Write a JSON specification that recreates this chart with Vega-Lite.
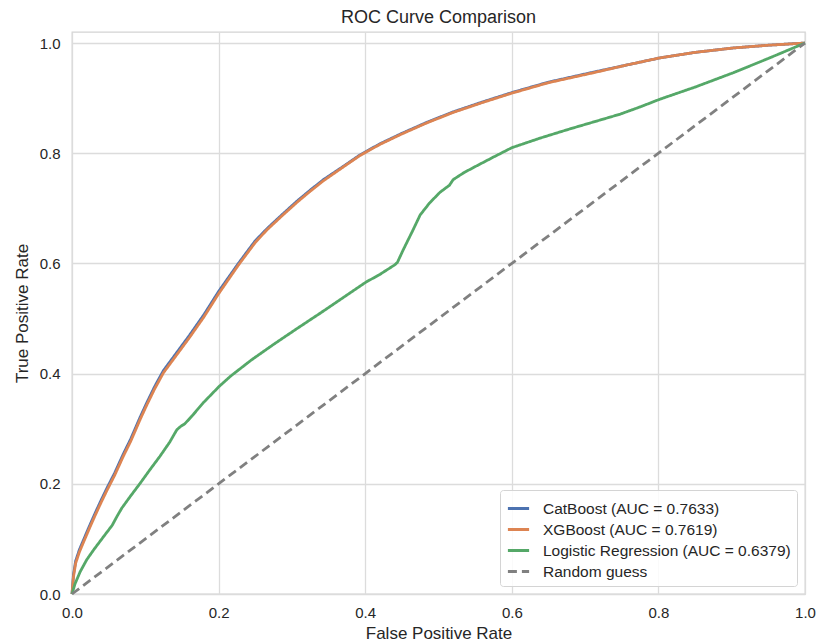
{
  "$schema": "https://vega.github.io/schema/vega-lite/v6.json",
  "autosize": "none",
  "width": 733,
  "height": 562,
  "padding": {"left": 72, "top": 32, "right": 13, "bottom": 49},
  "background": "white",
  "config": {
    "font": "Liberation Sans",
    "view": {"stroke": "#d4d4d4", "strokeWidth": 1.3},
    "axis": {
      "labelFont": "Liberation Sans",
      "titleFont": "Liberation Sans",
      "labelFontSize": 15,
      "titleFontSize": 17,
      "titleFontWeight": "normal",
      "labelColor": "#262626",
      "titleColor": "#262626",
      "gridColor": "#dcdcdc",
      "gridWidth": 1.3,
      "domain": false,
      "ticks": false
    },
    "legend": {
      "title": null,
      "orient": "bottom-right",
      "offset": 8,
      "padding": 6,
      "fillColor": "rgba(255,255,255,0.85)",
      "strokeColor": "#d4d4d4",
      "cornerRadius": 3,
      "symbolType": "stroke",
      "symbolSize": 450,
      "symbolStrokeWidth": 3,
      "labelFont": "Liberation Sans",
      "labelFontSize": 15.5,
      "labelColor": "#262626",
      "labelOffset": 12,
      "rowPadding": 0,
      "labelLimit": 400
    },
    "title": {"font": "Liberation Sans", "fontSize": 18, "fontWeight": "normal", "color": "#262626"}
  },
  "title": {"text": "ROC Curve Comparison", "anchor": "middle", "offset": 5},
  "datasets": {
    "roc": [
      {"model": "CatBoost (AUC = 0.7633)", "fpr": 0.0, "tpr": 0.0},
      {"model": "CatBoost (AUC = 0.7633)", "fpr": 0.002, "tpr": 0.035},
      {"model": "CatBoost (AUC = 0.7633)", "fpr": 0.005, "tpr": 0.060},
      {"model": "CatBoost (AUC = 0.7633)", "fpr": 0.010, "tpr": 0.080},
      {"model": "CatBoost (AUC = 0.7633)", "fpr": 0.016, "tpr": 0.099},
      {"model": "CatBoost (AUC = 0.7633)", "fpr": 0.024, "tpr": 0.124},
      {"model": "CatBoost (AUC = 0.7633)", "fpr": 0.032, "tpr": 0.148},
      {"model": "CatBoost (AUC = 0.7633)", "fpr": 0.040, "tpr": 0.171},
      {"model": "CatBoost (AUC = 0.7633)", "fpr": 0.048, "tpr": 0.193},
      {"model": "CatBoost (AUC = 0.7633)", "fpr": 0.058, "tpr": 0.219},
      {"model": "CatBoost (AUC = 0.7633)", "fpr": 0.070, "tpr": 0.254},
      {"model": "CatBoost (AUC = 0.7633)", "fpr": 0.080, "tpr": 0.281},
      {"model": "CatBoost (AUC = 0.7633)", "fpr": 0.093, "tpr": 0.321},
      {"model": "CatBoost (AUC = 0.7633)", "fpr": 0.102, "tpr": 0.347},
      {"model": "CatBoost (AUC = 0.7633)", "fpr": 0.113, "tpr": 0.377},
      {"model": "CatBoost (AUC = 0.7633)", "fpr": 0.125, "tpr": 0.406},
      {"model": "CatBoost (AUC = 0.7633)", "fpr": 0.140, "tpr": 0.433},
      {"model": "CatBoost (AUC = 0.7633)", "fpr": 0.160, "tpr": 0.469},
      {"model": "CatBoost (AUC = 0.7633)", "fpr": 0.180, "tpr": 0.507},
      {"model": "CatBoost (AUC = 0.7633)", "fpr": 0.200, "tpr": 0.549},
      {"model": "CatBoost (AUC = 0.7633)", "fpr": 0.227, "tpr": 0.600},
      {"model": "CatBoost (AUC = 0.7633)", "fpr": 0.250, "tpr": 0.641},
      {"model": "CatBoost (AUC = 0.7633)", "fpr": 0.266, "tpr": 0.663},
      {"model": "CatBoost (AUC = 0.7633)", "fpr": 0.287, "tpr": 0.689},
      {"model": "CatBoost (AUC = 0.7633)", "fpr": 0.307, "tpr": 0.713},
      {"model": "CatBoost (AUC = 0.7633)", "fpr": 0.325, "tpr": 0.733},
      {"model": "CatBoost (AUC = 0.7633)", "fpr": 0.343, "tpr": 0.752},
      {"model": "CatBoost (AUC = 0.7633)", "fpr": 0.370, "tpr": 0.776},
      {"model": "CatBoost (AUC = 0.7633)", "fpr": 0.393, "tpr": 0.797},
      {"model": "CatBoost (AUC = 0.7633)", "fpr": 0.420, "tpr": 0.817},
      {"model": "CatBoost (AUC = 0.7633)", "fpr": 0.450, "tpr": 0.836},
      {"model": "CatBoost (AUC = 0.7633)", "fpr": 0.484, "tpr": 0.856},
      {"model": "CatBoost (AUC = 0.7633)", "fpr": 0.520, "tpr": 0.875},
      {"model": "CatBoost (AUC = 0.7633)", "fpr": 0.560, "tpr": 0.893},
      {"model": "CatBoost (AUC = 0.7633)", "fpr": 0.600, "tpr": 0.910},
      {"model": "CatBoost (AUC = 0.7633)", "fpr": 0.650, "tpr": 0.929},
      {"model": "CatBoost (AUC = 0.7633)", "fpr": 0.711, "tpr": 0.947},
      {"model": "CatBoost (AUC = 0.7633)", "fpr": 0.760, "tpr": 0.961},
      {"model": "CatBoost (AUC = 0.7633)", "fpr": 0.802, "tpr": 0.973},
      {"model": "CatBoost (AUC = 0.7633)", "fpr": 0.850, "tpr": 0.983},
      {"model": "CatBoost (AUC = 0.7633)", "fpr": 0.902, "tpr": 0.991},
      {"model": "CatBoost (AUC = 0.7633)", "fpr": 0.950, "tpr": 0.996},
      {"model": "CatBoost (AUC = 0.7633)", "fpr": 1.0, "tpr": 1.0},
      {"model": "XGBoost (AUC = 0.7619)", "fpr": 0.0, "tpr": 0.0},
      {"model": "XGBoost (AUC = 0.7619)", "fpr": 0.002, "tpr": 0.031},
      {"model": "XGBoost (AUC = 0.7619)", "fpr": 0.005, "tpr": 0.056},
      {"model": "XGBoost (AUC = 0.7619)", "fpr": 0.010, "tpr": 0.076},
      {"model": "XGBoost (AUC = 0.7619)", "fpr": 0.016, "tpr": 0.095},
      {"model": "XGBoost (AUC = 0.7619)", "fpr": 0.024, "tpr": 0.120},
      {"model": "XGBoost (AUC = 0.7619)", "fpr": 0.032, "tpr": 0.144},
      {"model": "XGBoost (AUC = 0.7619)", "fpr": 0.040, "tpr": 0.167},
      {"model": "XGBoost (AUC = 0.7619)", "fpr": 0.048, "tpr": 0.189},
      {"model": "XGBoost (AUC = 0.7619)", "fpr": 0.058, "tpr": 0.215},
      {"model": "XGBoost (AUC = 0.7619)", "fpr": 0.070, "tpr": 0.250},
      {"model": "XGBoost (AUC = 0.7619)", "fpr": 0.080, "tpr": 0.277},
      {"model": "XGBoost (AUC = 0.7619)", "fpr": 0.093, "tpr": 0.317},
      {"model": "XGBoost (AUC = 0.7619)", "fpr": 0.102, "tpr": 0.343},
      {"model": "XGBoost (AUC = 0.7619)", "fpr": 0.113, "tpr": 0.373},
      {"model": "XGBoost (AUC = 0.7619)", "fpr": 0.125, "tpr": 0.402},
      {"model": "XGBoost (AUC = 0.7619)", "fpr": 0.140, "tpr": 0.429},
      {"model": "XGBoost (AUC = 0.7619)", "fpr": 0.160, "tpr": 0.465},
      {"model": "XGBoost (AUC = 0.7619)", "fpr": 0.180, "tpr": 0.503},
      {"model": "XGBoost (AUC = 0.7619)", "fpr": 0.200, "tpr": 0.545},
      {"model": "XGBoost (AUC = 0.7619)", "fpr": 0.227, "tpr": 0.597},
      {"model": "XGBoost (AUC = 0.7619)", "fpr": 0.250, "tpr": 0.638},
      {"model": "XGBoost (AUC = 0.7619)", "fpr": 0.266, "tpr": 0.661},
      {"model": "XGBoost (AUC = 0.7619)", "fpr": 0.287, "tpr": 0.687},
      {"model": "XGBoost (AUC = 0.7619)", "fpr": 0.307, "tpr": 0.711},
      {"model": "XGBoost (AUC = 0.7619)", "fpr": 0.325, "tpr": 0.731},
      {"model": "XGBoost (AUC = 0.7619)", "fpr": 0.343, "tpr": 0.750},
      {"model": "XGBoost (AUC = 0.7619)", "fpr": 0.370, "tpr": 0.775},
      {"model": "XGBoost (AUC = 0.7619)", "fpr": 0.393, "tpr": 0.796},
      {"model": "XGBoost (AUC = 0.7619)", "fpr": 0.420, "tpr": 0.816},
      {"model": "XGBoost (AUC = 0.7619)", "fpr": 0.450, "tpr": 0.835},
      {"model": "XGBoost (AUC = 0.7619)", "fpr": 0.484, "tpr": 0.855},
      {"model": "XGBoost (AUC = 0.7619)", "fpr": 0.520, "tpr": 0.874},
      {"model": "XGBoost (AUC = 0.7619)", "fpr": 0.560, "tpr": 0.892},
      {"model": "XGBoost (AUC = 0.7619)", "fpr": 0.600, "tpr": 0.909},
      {"model": "XGBoost (AUC = 0.7619)", "fpr": 0.650, "tpr": 0.928},
      {"model": "XGBoost (AUC = 0.7619)", "fpr": 0.711, "tpr": 0.946},
      {"model": "XGBoost (AUC = 0.7619)", "fpr": 0.760, "tpr": 0.961},
      {"model": "XGBoost (AUC = 0.7619)", "fpr": 0.802, "tpr": 0.973},
      {"model": "XGBoost (AUC = 0.7619)", "fpr": 0.850, "tpr": 0.983},
      {"model": "XGBoost (AUC = 0.7619)", "fpr": 0.902, "tpr": 0.991},
      {"model": "XGBoost (AUC = 0.7619)", "fpr": 0.950, "tpr": 0.996},
      {"model": "XGBoost (AUC = 0.7619)", "fpr": 1.0, "tpr": 1.0},
      {"model": "Logistic Regression (AUC = 0.6379)", "fpr": 0.0, "tpr": 0.0},
      {"model": "Logistic Regression (AUC = 0.6379)", "fpr": 0.004, "tpr": 0.018},
      {"model": "Logistic Regression (AUC = 0.6379)", "fpr": 0.011, "tpr": 0.040},
      {"model": "Logistic Regression (AUC = 0.6379)", "fpr": 0.020, "tpr": 0.062},
      {"model": "Logistic Regression (AUC = 0.6379)", "fpr": 0.030, "tpr": 0.081},
      {"model": "Logistic Regression (AUC = 0.6379)", "fpr": 0.043, "tpr": 0.104},
      {"model": "Logistic Regression (AUC = 0.6379)", "fpr": 0.055, "tpr": 0.125},
      {"model": "Logistic Regression (AUC = 0.6379)", "fpr": 0.061, "tpr": 0.140},
      {"model": "Logistic Regression (AUC = 0.6379)", "fpr": 0.068, "tpr": 0.156},
      {"model": "Logistic Regression (AUC = 0.6379)", "fpr": 0.080, "tpr": 0.178},
      {"model": "Logistic Regression (AUC = 0.6379)", "fpr": 0.093, "tpr": 0.201},
      {"model": "Logistic Regression (AUC = 0.6379)", "fpr": 0.106, "tpr": 0.225},
      {"model": "Logistic Regression (AUC = 0.6379)", "fpr": 0.120, "tpr": 0.250},
      {"model": "Logistic Regression (AUC = 0.6379)", "fpr": 0.133, "tpr": 0.275},
      {"model": "Logistic Regression (AUC = 0.6379)", "fpr": 0.143, "tpr": 0.298},
      {"model": "Logistic Regression (AUC = 0.6379)", "fpr": 0.148, "tpr": 0.304},
      {"model": "Logistic Regression (AUC = 0.6379)", "fpr": 0.154, "tpr": 0.309},
      {"model": "Logistic Regression (AUC = 0.6379)", "fpr": 0.165, "tpr": 0.325},
      {"model": "Logistic Regression (AUC = 0.6379)", "fpr": 0.179, "tpr": 0.347},
      {"model": "Logistic Regression (AUC = 0.6379)", "fpr": 0.201, "tpr": 0.377},
      {"model": "Logistic Regression (AUC = 0.6379)", "fpr": 0.216, "tpr": 0.395},
      {"model": "Logistic Regression (AUC = 0.6379)", "fpr": 0.245, "tpr": 0.425},
      {"model": "Logistic Regression (AUC = 0.6379)", "fpr": 0.275, "tpr": 0.453},
      {"model": "Logistic Regression (AUC = 0.6379)", "fpr": 0.305, "tpr": 0.480},
      {"model": "Logistic Regression (AUC = 0.6379)", "fpr": 0.339, "tpr": 0.510},
      {"model": "Logistic Regression (AUC = 0.6379)", "fpr": 0.370, "tpr": 0.538},
      {"model": "Logistic Regression (AUC = 0.6379)", "fpr": 0.401, "tpr": 0.566},
      {"model": "Logistic Regression (AUC = 0.6379)", "fpr": 0.420, "tpr": 0.580},
      {"model": "Logistic Regression (AUC = 0.6379)", "fpr": 0.441, "tpr": 0.598},
      {"model": "Logistic Regression (AUC = 0.6379)", "fpr": 0.444, "tpr": 0.602},
      {"model": "Logistic Regression (AUC = 0.6379)", "fpr": 0.452, "tpr": 0.625},
      {"model": "Logistic Regression (AUC = 0.6379)", "fpr": 0.465, "tpr": 0.660},
      {"model": "Logistic Regression (AUC = 0.6379)", "fpr": 0.475, "tpr": 0.688},
      {"model": "Logistic Regression (AUC = 0.6379)", "fpr": 0.488, "tpr": 0.710},
      {"model": "Logistic Regression (AUC = 0.6379)", "fpr": 0.502, "tpr": 0.729},
      {"model": "Logistic Regression (AUC = 0.6379)", "fpr": 0.515, "tpr": 0.742},
      {"model": "Logistic Regression (AUC = 0.6379)", "fpr": 0.520, "tpr": 0.752},
      {"model": "Logistic Regression (AUC = 0.6379)", "fpr": 0.535, "tpr": 0.765},
      {"model": "Logistic Regression (AUC = 0.6379)", "fpr": 0.552, "tpr": 0.777},
      {"model": "Logistic Regression (AUC = 0.6379)", "fpr": 0.575, "tpr": 0.793},
      {"model": "Logistic Regression (AUC = 0.6379)", "fpr": 0.600, "tpr": 0.810},
      {"model": "Logistic Regression (AUC = 0.6379)", "fpr": 0.640, "tpr": 0.828},
      {"model": "Logistic Regression (AUC = 0.6379)", "fpr": 0.679, "tpr": 0.844},
      {"model": "Logistic Regression (AUC = 0.6379)", "fpr": 0.720, "tpr": 0.860},
      {"model": "Logistic Regression (AUC = 0.6379)", "fpr": 0.748, "tpr": 0.871},
      {"model": "Logistic Regression (AUC = 0.6379)", "fpr": 0.775, "tpr": 0.884},
      {"model": "Logistic Regression (AUC = 0.6379)", "fpr": 0.802, "tpr": 0.898},
      {"model": "Logistic Regression (AUC = 0.6379)", "fpr": 0.850, "tpr": 0.920},
      {"model": "Logistic Regression (AUC = 0.6379)", "fpr": 0.902, "tpr": 0.946},
      {"model": "Logistic Regression (AUC = 0.6379)", "fpr": 0.950, "tpr": 0.972},
      {"model": "Logistic Regression (AUC = 0.6379)", "fpr": 1.0, "tpr": 1.0},
      {"model": "Random guess", "fpr": 0.0, "tpr": 0.0},
      {"model": "Random guess", "fpr": 1.0, "tpr": 1.0}
    ]
  },
  "data": {"name": "roc"},
  "mark": {"type": "line", "strokeWidth": 2.8, "interpolate": "linear"},
  "encoding": {
    "x": {
      "field": "fpr", "type": "quantitative",
      "scale": {"domain": [0, 1], "nice": false, "zero": false},
      "axis": {"title": "False Positive Rate", "values": [0, 0.2, 0.4, 0.6, 0.8, 1.0], "format": ".1f", "labelPadding": 11, "titlePadding": 5, "labelFlush": false}
    },
    "y": {
      "field": "tpr", "type": "quantitative",
      "scale": {"domain": [0, 1.02], "nice": false, "zero": false},
      "axis": {"title": "True Positive Rate", "values": [0, 0.2, 0.4, 0.6, 0.8, 1.0], "format": ".1f", "labelPadding": 12, "titlePadding": 8, "labelFlush": false}
    },
    "color": {
      "field": "model", "type": "nominal",
      "scale": {
        "domain": ["CatBoost (AUC = 0.7633)", "XGBoost (AUC = 0.7619)", "Logistic Regression (AUC = 0.6379)", "Random guess"],
        "range": ["#4C72B0", "#DD8452", "#55A868", "#808080"]
      },
      "legend": {"title": null}
    },
    "strokeDash": {
      "field": "model", "type": "nominal",
      "scale": {
        "domain": ["CatBoost (AUC = 0.7633)", "XGBoost (AUC = 0.7619)", "Logistic Regression (AUC = 0.6379)", "Random guess"],
        "range": [[1, 0], [1, 0], [1, 0], [9, 5]]
      },
      "legend": {"title": null}
    }
  }
}
